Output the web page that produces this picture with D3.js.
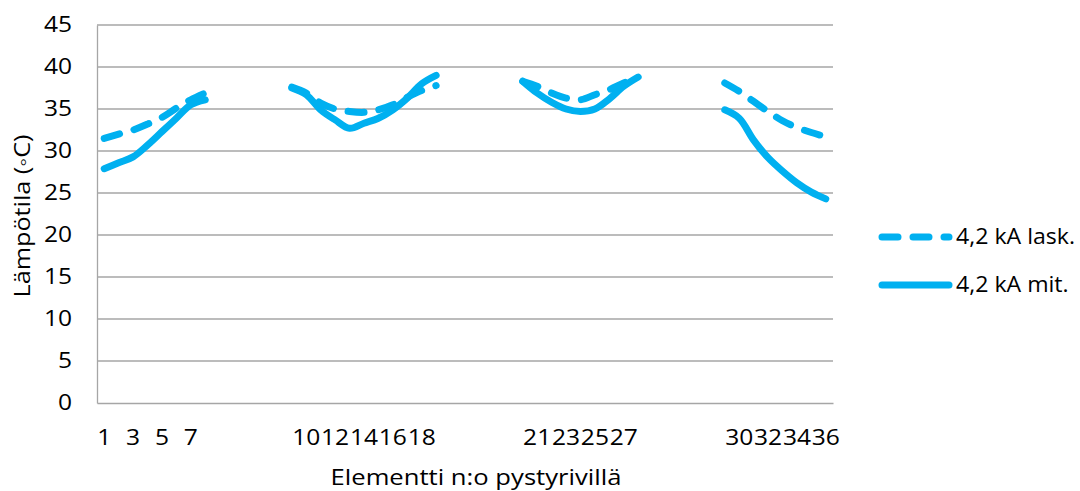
<!DOCTYPE html>
<html>
<head>
<meta charset="utf-8">
<script src="https://cdn.jsdelivr.net/npm/d3@7"></script>
<style>
  body { margin: 0; background: #fff; }
  text { font-family: "Open Sans", "Noto Sans", sans-serif; fill: #000; }
</style>
</head>
<body>
<div id="chart"></div>
<script>
// element numbers along the x axis, "" = empty category between column groups
const categories = [
  "1", "2", "3", "4", "5", "6", "7", "8",
  "", "", "", "", "",
  "9", "10", "11", "12", "13", "14", "15", "16", "17", "18", "19",
  "", "", "", "", "",
  "20", "21", "22", "23", "24", "25", "26", "27", "28",
  "", "", "", "", "",
  "29", "30", "31", "32", "33", "34", "35", "36"
];

const lask = [
  31.5, 32.0, 32.5, 33.2, 34.0, 35.1, 36.1, 36.9,
  null, null, null, null, null,
  37.6, 36.9, 35.7, 35.0, 34.7, 34.6, 34.9, 35.5, 36.4, 37.2, 37.8,
  null, null, null, null, null,
  38.3, 37.7, 36.9, 36.3, 36.1, 36.7, 37.3, 38.1, 38.8,
  null, null, null, null, null,
  38.1, 37.1, 35.9, 34.7, 33.6, 32.8, 32.2, 31.7
];

const mit = [
  27.9, 28.6, 29.3, 30.7, 32.3, 33.9, 35.5, 36.1,
  null, null, null, null, null,
  37.5, 36.7, 34.9, 33.7, 32.7, 33.3, 33.9, 34.9, 36.3, 38.0, 39.0,
  null, null, null, null, null,
  38.3, 36.9, 35.8, 35.0, 34.7, 35.0, 36.2, 37.7, 38.8,
  null, null, null, null, null,
  34.9, 33.9, 31.3, 29.2, 27.6, 26.2, 25.1, 24.3
];

const yTicks = [0, 5, 10, 15, 20, 25, 30, 35, 40, 45];

const seriesNames = ["4,2 kA lask.", "4,2 kA mit."];

const width = 1080, height = 491;
const plot = { left: 97, right: 833, top: 25, bottom: 403 };
const blue = "#00b0f0";
const lineW = 7;

// the original chart is stretched sideways, so widen the glyphs a bit
function stretch(sel, k) {
  sel.each(function () {
    const w = this.getComputedTextLength();
    d3.select(this)
      .attr("textLength", w * k)
      .attr("lengthAdjust", "spacingAndGlyphs");
  });
}

const svg = d3.select("#chart").append("svg")
  .attr("width", width)
  .attr("height", height);

const x = d3.scaleBand()
  .domain(d3.range(categories.length))
  .range([plot.left, plot.right]);

const y = d3.scaleLinear()
  .domain([0, 45])
  .range([plot.bottom, plot.top]);

// gridlines
svg.append("g")
  .selectAll("line")
  .data(yTicks.filter(t => t > 0))
  .enter().append("line")
  .attr("x1", plot.left).attr("x2", plot.right)
  .attr("y1", d => y(d)).attr("y2", d => y(d))
  .attr("stroke", "#a6a6a6")
  .attr("stroke-width", 1.3);

// y axis
const yAxis = svg.append("g")
  .attr("transform", `translate(${plot.left},0)`)
  .call(d3.axisLeft(y).tickValues(yTicks).tickSize(0).tickPadding(25));
yAxis.select(".domain").attr("stroke", "#a6a6a6").attr("stroke-width", 1.3);
yAxis.selectAll("text")
  .style("font-family", '"Open Sans", "Noto Sans", sans-serif')
  .style("font-size", "21px")
  .attr("fill", "#000")
  .call(stretch, 1.17);

// x axis, label every second category
const xAxis = svg.append("g")
  .attr("transform", `translate(0,${plot.bottom})`)
  .call(d3.axisBottom(x)
    .tickSize(0)
    .tickPadding(27)
    .tickFormat(i => i % 2 === 0 ? categories[i] : ""));
xAxis.select(".domain").attr("stroke", "#a6a6a6").attr("stroke-width", 1.3);
xAxis.selectAll("text")
  .style("font-family", '"Open Sans", "Noto Sans", sans-serif')
  .style("font-size", "21px")
  .attr("fill", "#000")
  .filter(function () { return this.textContent !== ""; })
  .call(stretch, 1.17);

// lines
const line = d3.line()
  .defined(d => d != null)
  .x((d, i) => x(i) + x.bandwidth() / 2)
  .y(d => y(d))
  .curve(d3.curveCatmullRom);

svg.append("path")
  .datum(lask)
  .attr("d", line)
  .attr("fill", "none")
  .attr("stroke", blue)
  .attr("stroke-width", lineW)
  .attr("stroke-linecap", "round")
  .attr("stroke-linejoin", "round")
  .attr("stroke-dasharray", "16,15");

svg.append("path")
  .datum(mit)
  .attr("d", line)
  .attr("fill", "none")
  .attr("stroke", blue)
  .attr("stroke-width", lineW)
  .attr("stroke-linecap", "round")
  .attr("stroke-linejoin", "round");

// legend
const legend = svg.append("g");
seriesNames.forEach((name, k) => {
  const ly = 237 + k * 48;
  legend.append("line")
    .attr("x1", 882).attr("x2", 949)
    .attr("y1", ly).attr("y2", ly)
    .attr("stroke", blue)
    .attr("stroke-width", lineW)
    .attr("stroke-linecap", "round")
    .attr("stroke-dasharray", k === 0 ? "16,15" : null);
  legend.append("text")
    .attr("x", 956)
    .attr("y", ly)
    .attr("dy", "0.35em")
    .style("font-size", "21px")
    .text(name)
    .call(stretch, 1.1);
});

// axis titles
svg.append("text")
  .attr("x", 476)
  .attr("y", 478)
  .attr("text-anchor", "middle")
  .attr("dy", "0.35em")
  .style("font-size", "21px")
  .text("Elementti n:o pystyrivillä")
  .call(stretch, 1.22);

svg.append("text")
  .attr("transform", "translate(23,216) rotate(-90)")
  .attr("text-anchor", "middle")
  .attr("dy", "0.35em")
  .style("font-size", "21px")
  .text("Lämpötila (◦C)")
  .call(stretch, 1.2);
</script>
</body>
</html>
